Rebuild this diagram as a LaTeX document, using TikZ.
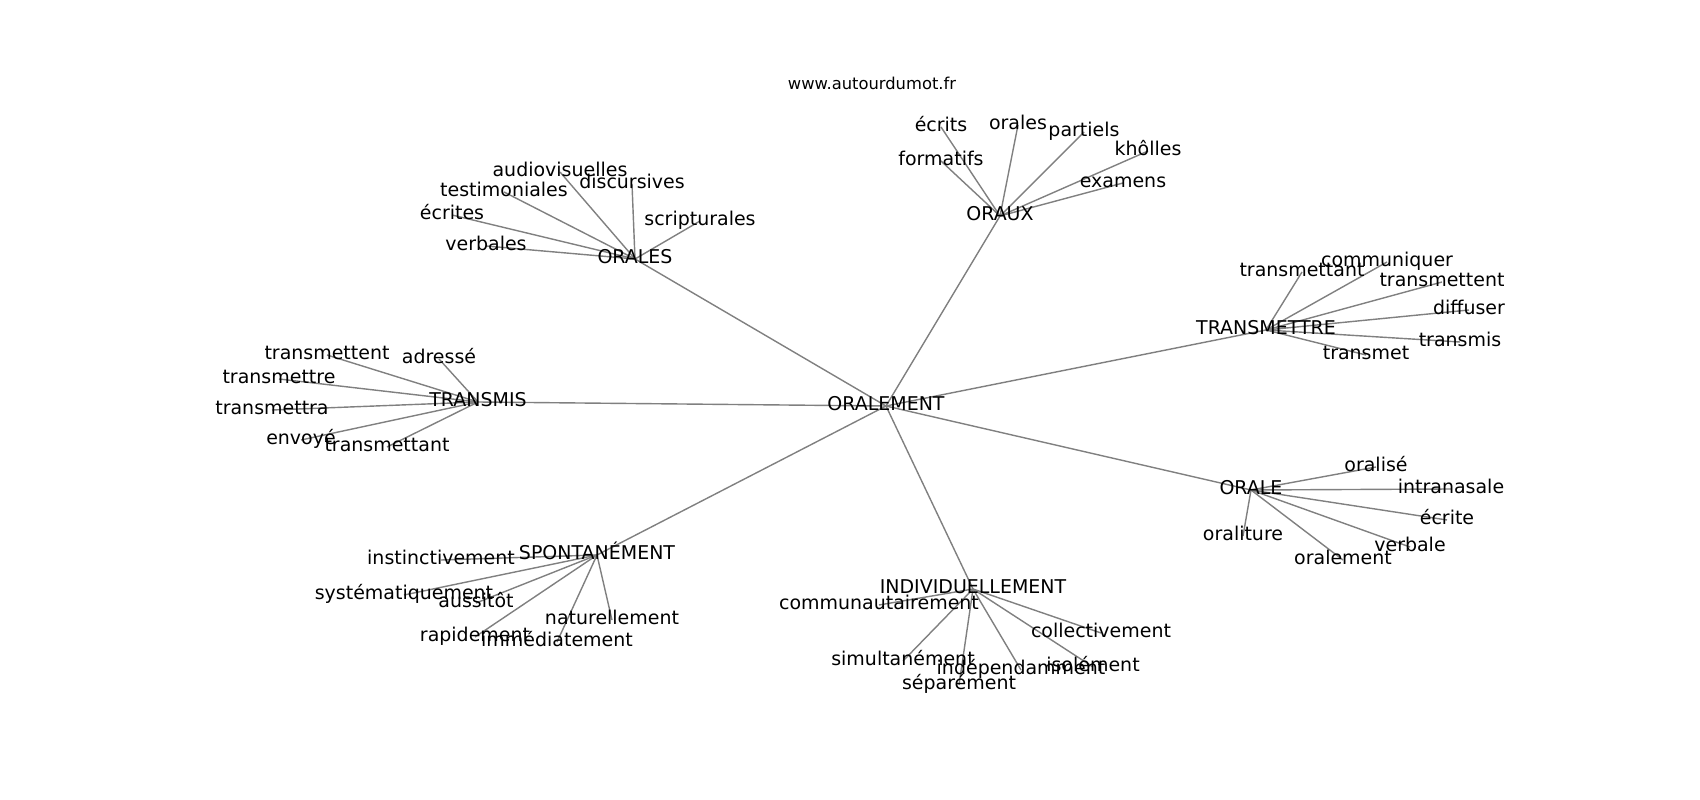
\documentclass[tikz,border=0pt]{standalone}
\usepackage{fontspec}
\setmainfont{DejaVu Sans}
\usetikzlibrary{backgrounds}

\begin{document}
\begin{tikzpicture}[x=2cm,y=-2cm,
  word/.style={inner sep=0pt,text height=0.75em,text depth=0.25em,font=\fontsize{10.8pt}{13pt}\selectfont},
  link/.style={draw=gray,line width=0.8pt}]
\useasboundingbox (0,0) rectangle (17,8);

\node (site) [inner sep=0pt,font=\fontsize{9.3pt}{11pt}\selectfont] at (8.72,0.83) {www.autourdumot.fr};

\node (root) [word] at (8.86,4.06) {ORALEMENT};

% ORALES
\node (orales) [word] at (6.35,2.59) {ORALES};
\node (oralesaudio) [word] at (5.60,1.72) {audiovisuelles};
\node (oralesdisc) [word] at (6.32,1.84) {discursives};
\node (oralestest) [word] at (5.04,1.92) {testimoniales};
\node (oralesecr) [word] at (4.52,2.15) {écrites};
\node (oralesverb) [word] at (4.86,2.46) {verbales};
\node (oralesscri) [word] at (7.00,2.21) {scripturales};

% ORAUX
\node (oraux) [word] at (10.00,2.16) {ORAUX};
\node (orauxecr) [word] at (9.41,1.27) {écrits};
\node (orauxora) [word] at (10.18,1.25) {orales};
\node (orauxpart) [word] at (10.84,1.32) {partiels};
\node (orauxkh) [word] at (11.48,1.51) {khôlles};
\node (orauxform) [word] at (9.41,1.61) {formatifs};
\node (orauxexam) [word] at (11.23,1.83) {examens};

% TRANSMETTRE
\node (transmettre) [word] at (12.66,3.30) {TRANSMETTRE};
\node (trecomm) [word] at (13.87,2.62) {communiquer};
\node (trettant) [word] at (13.02,2.72) {transmettant};
\node (trettent) [word] at (14.42,2.82) {transmettent};
\node (trediff) [word] at (14.69,3.10) {diffuser};
\node (tremis) [word] at (14.60,3.42) {transmis};
\node (tremet) [word] at (13.66,3.55) {transmet};

% TRANSMIS
\node (transmis) [word] at (4.78,4.02) {TRANSMIS};
\node (tristtent) [word] at (3.27,3.55) {transmettent};
\node (trisadr) [word] at (4.39,3.59) {adressé};
\node (tristtre) [word] at (2.79,3.79) {transmettre};
\node (tristtra) [word] at (2.72,4.10) {transmettra};
\node (trisenv) [word] at (3.01,4.40) {envoyé};
\node (tristtant) [word] at (3.87,4.47) {transmettant};

% ORALE
\node (orale) [word] at (12.51,4.90) {ORALE};
\node (oraleoral) [word] at (13.76,4.67) {oralisé};
\node (oraleintra) [word] at (14.51,4.89) {intranasale};
\node (oraleecr) [word] at (14.47,5.20) {écrite};
\node (oraleture) [word] at (12.43,5.36) {oraliture};
\node (oraleverb) [word] at (14.10,5.47) {verbale};
\node (oraleent) [word] at (13.43,5.60) {oralement};

% SPONTANEMENT
\node (spont) [word] at (5.97,5.55) {SPONTANÉMENT};
\node (spontinst) [word] at (4.41,5.60) {instinctivement};
\node (spontsyst) [word] at (4.04,5.95) {systématiquement};
\node (spontauss) [word] at (4.76,6.03) {aussitôt};
\node (spontnat) [word] at (6.12,6.20) {naturellement};
\node (spontrap) [word] at (4.75,6.37) {rapidement};
\node (spontimm) [word] at (5.57,6.42) {immédiatement};

% INDIVIDUELLEMENT
\node (indiv) [word] at (9.73,5.89) {INDIVIDUELLEMENT};
\node (indivcomm) [word] at (8.79,6.05) {communautairement};
\node (indivcoll) [word] at (11.01,6.33) {collectivement};
\node (indivsim) [word] at (9.03,6.61) {simultanément};
\node (indivind) [word] at (10.21,6.70) {indépendamment};
\node (indivisol) [word] at (10.93,6.67) {isolément};
\node (indivsep) [word] at (9.59,6.85) {séparément};

\begin{scope}[on background layer]
\draw[link] (root.center) -- (orales.center);
\draw[link] (root.center) -- (oraux.center);
\draw[link] (root.center) -- (transmettre.center);
\draw[link] (root.center) -- (transmis.center);
\draw[link] (root.center) -- (orale.center);
\draw[link] (root.center) -- (spont.center);
\draw[link] (root.center) -- (indiv.center);

\draw[link] (orales.center) -- (oralesaudio.center);
\draw[link] (orales.center) -- (oralesdisc.center);
\draw[link] (orales.center) -- (oralestest.center);
\draw[link] (orales.center) -- (oralesecr.center);
\draw[link] (orales.center) -- (oralesverb.center);
\draw[link] (orales.center) -- (oralesscri.center);

\draw[link] (oraux.center) -- (orauxecr.center);
\draw[link] (oraux.center) -- (orauxora.center);
\draw[link] (oraux.center) -- (orauxpart.center);
\draw[link] (oraux.center) -- (orauxkh.center);
\draw[link] (oraux.center) -- (orauxform.center);
\draw[link] (oraux.center) -- (orauxexam.center);

\draw[link] (transmettre.center) -- (trecomm.center);
\draw[link] (transmettre.center) -- (trettant.center);
\draw[link] (transmettre.center) -- (trettent.center);
\draw[link] (transmettre.center) -- (trediff.center);
\draw[link] (transmettre.center) -- (tremis.center);
\draw[link] (transmettre.center) -- (tremet.center);

\draw[link] (transmis.center) -- (tristtent.center);
\draw[link] (transmis.center) -- (trisadr.center);
\draw[link] (transmis.center) -- (tristtre.center);
\draw[link] (transmis.center) -- (tristtra.center);
\draw[link] (transmis.center) -- (trisenv.center);
\draw[link] (transmis.center) -- (tristtant.center);

\draw[link] (orale.center) -- (oraleoral.center);
\draw[link] (orale.center) -- (oraleintra.center);
\draw[link] (orale.center) -- (oraleecr.center);
\draw[link] (orale.center) -- (oraleture.center);
\draw[link] (orale.center) -- (oraleverb.center);
\draw[link] (orale.center) -- (oraleent.center);

\draw[link] (spont.center) -- (spontinst.center);
\draw[link] (spont.center) -- (spontsyst.center);
\draw[link] (spont.center) -- (spontauss.center);
\draw[link] (spont.center) -- (spontnat.center);
\draw[link] (spont.center) -- (spontrap.center);
\draw[link] (spont.center) -- (spontimm.center);

\draw[link] (indiv.center) -- (indivcomm.center);
\draw[link] (indiv.center) -- (indivcoll.center);
\draw[link] (indiv.center) -- (indivsim.center);
\draw[link] (indiv.center) -- (indivind.center);
\draw[link] (indiv.center) -- (indivisol.center);
\draw[link] (indiv.center) -- (indivsep.center);
\end{scope}

\end{tikzpicture}
\end{document}
